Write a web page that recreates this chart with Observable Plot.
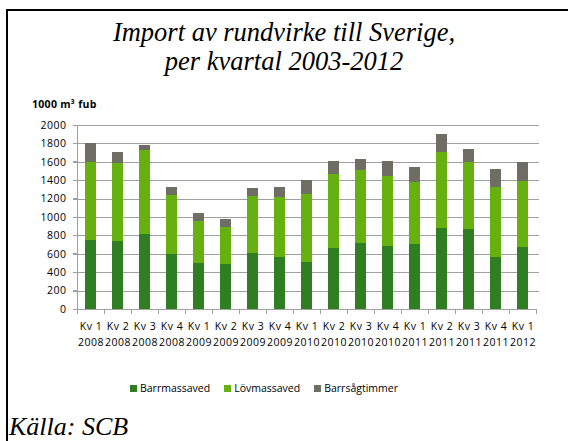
<!DOCTYPE html>
<html>
<head>
<meta charset="utf-8">
<script src="https://cdn.jsdelivr.net/npm/d3@7"></script>
<script src="https://cdn.jsdelivr.net/npm/@observablehq/plot@0.6"></script>
<style>
  html, body { margin: 0; padding: 0; background: #fff; }
  #page { position: relative; width: 568px; height: 441px; overflow: hidden; background: #fff; }
  #frame { position: absolute; left: 6px; top: 9px; right: -4px; bottom: -4px;
           border-left: 2px solid #000; border-top: 2px solid #000; }
  #title { position: absolute; top: 18px; left: 0; width: 568px; text-align: center;
           font-family: "Liberation Serif", "Times New Roman", serif; font-style: italic;
           font-size: 26.5px; line-height: 29px; color: #000; }
  #unit { position: absolute; left: 32px; top: 97px; font-family: "Open Sans", sans-serif;
          font-weight: bold; font-size: 10.5px; line-height: 14px; color: #000; letter-spacing: 0.3px; }
  #chart { position: absolute; left: 0; top: 115px; }
  #chart text { letter-spacing: 0.5px; }
  #legend { position: absolute; top: 381px; left: 130px; display: flex; justify-content: flex-start;
            gap: 14px; font-family: "Open Sans", sans-serif; font-size: 10.5px; line-height: 14px;
            color: #000; }
  #legend .item { display: flex; align-items: center; }
  #legend .sw { display: inline-block; width: 7px; height: 7px; margin-right: 3px; }
  #source { position: absolute; left: 9px; top: 413px; font-family: "Liberation Serif", "Times New Roman", serif;
            font-style: italic; font-size: 26px; line-height: 28px; color: #000; }
</style>
</head>
<body>
<div id="page">
  <div id="frame"></div>
  <div id="title">Import av rundvirke till Sverige,<br>per kvartal 2003-2012</div>
  <div id="unit">1000 m³ fub</div>
  <div id="chart"></div>
  <div id="legend"></div>
  <div id="source">Källa: SCB</div>
</div>
<script>
// ---- data ----
const quarters = ["Kv 1","Kv 2","Kv 3","Kv 4","Kv 1","Kv 2","Kv 3","Kv 4","Kv 1","Kv 2","Kv 3","Kv 4","Kv 1","Kv 2","Kv 3","Kv 4","Kv 1"];
const years = ["2008","2008","2008","2008","2009","2009","2009","2009","2010","2010","2010","2010","2011","2011","2011","2011","2012"];
const seriesNames = ["Barrmassaved", "Lövmassaved", "Barrsågtimmer"];
const seriesColors = ["#2f7f22", "#66b010", "#6e6e64"];
const barrmassaved  = [745, 734, 817, 593, 499, 485, 604, 564, 506, 658, 716, 680, 702, 879, 868, 564, 669];
const lovmassaved   = [850, 854, 908, 644, 456, 405, 629, 651, 745, 810, 799, 763, 683, 828, 734, 767, 724];
const barrsagtimmer = [206, 123,  62,  87,  87,  90,  80, 112, 149, 145, 113, 163, 159, 192, 134, 188, 206];
const yTicks = [0, 200, 400, 600, 800, 1000, 1200, 1400, 1600, 1800, 2000];

const cats = quarters.map((q, i) => q + "\n" + years[i]);
const seriesValues = [barrmassaved, lovmassaved, barrsagtimmer];
const rows = [];
seriesNames.forEach((s, si) => {
  cats.forEach((c, i) => rows.push({cat: c, series: s, value: seriesValues[si][i]}));
});

const PAD = 0.61;
const gridColor = "#a0a0a0";

// Excel-style axis lines and boundary ticks, positioned from the scales
function axisDecor(index, scales) {
  const x = scales.x, y = scales.y;
  const step = typeof x.step === "function" ? x.step() : (x(cats[1]) - x(cats[0]));
  const bw = typeof x.bandwidth === "function" ? x.bandwidth() : step * (1 - PAD);
  const left = x(cats[0]) - (step - bw) / 2;
  const right = left + step * cats.length;
  const y0 = y(0), yTop = y(yTicks[yTicks.length - 1]);
  const g = d3.create("svg:g").attr("stroke", gridColor).attr("stroke-width", 1).attr("shape-rendering", "crispEdges");
  g.append("line").attr("x1", left).attr("x2", left).attr("y1", yTop).attr("y2", y0);
  g.append("line").attr("x1", left).attr("x2", right).attr("y1", y0).attr("y2", y0);
  for (let i = 0; i <= cats.length; i++) {
    const xb = left + i * step;
    g.append("line").attr("x1", xb).attr("x2", xb).attr("y1", y0).attr("y2", y0 + 5);
  }
  for (const v of yTicks) {
    g.append("line").attr("x1", left - 4).attr("x2", left).attr("y1", y(v)).attr("y2", y(v));
  }
  return g.node();
}

const plot = Plot.plot({
  width: 568,
  height: 240,
  marginTop: 10,
  marginBottom: 46,
  marginLeft: 73,
  marginRight: 29,
  style: {fontFamily: "'Open Sans', sans-serif", fontSize: "10.5px", color: "#000", background: "transparent"},
  x: {domain: cats, paddingInner: PAD, paddingOuter: PAD / 2, label: null},
  y: {domain: [0, 2000], label: null},
  color: {domain: seriesNames, range: seriesColors},
  marks: [
    Plot.ruleY(yTicks.filter(d => d > 0), {stroke: gridColor, strokeWidth: 1, shapeRendering: "crispEdges"}),
    Plot.barY(rows, {x: "cat", y: "value", fill: "series", order: null, shapeRendering: "crispEdges"}),
    axisDecor,
    Plot.axisY({ticks: yTicks, tickSize: 0, tickPadding: 7, fontSize: 10.5, fill: "#000", tickFormat: d => String(d)}),
    Plot.axisX({tickSize: 0, tickPadding: 10, fontSize: 10.5, lineHeight: 1.45, fill: "#000", tickFormat: d => d})
  ]
});
document.getElementById("chart").appendChild(plot);

const legend = document.getElementById("legend");
seriesNames.forEach((s, i) => {
  const item = document.createElement("div");
  item.className = "item";
  const sw = document.createElement("span");
  sw.className = "sw";
  sw.style.background = seriesColors[i];
  item.appendChild(sw);
  item.appendChild(document.createTextNode(s));
  legend.appendChild(item);
});
</script>
</body>
</html>
